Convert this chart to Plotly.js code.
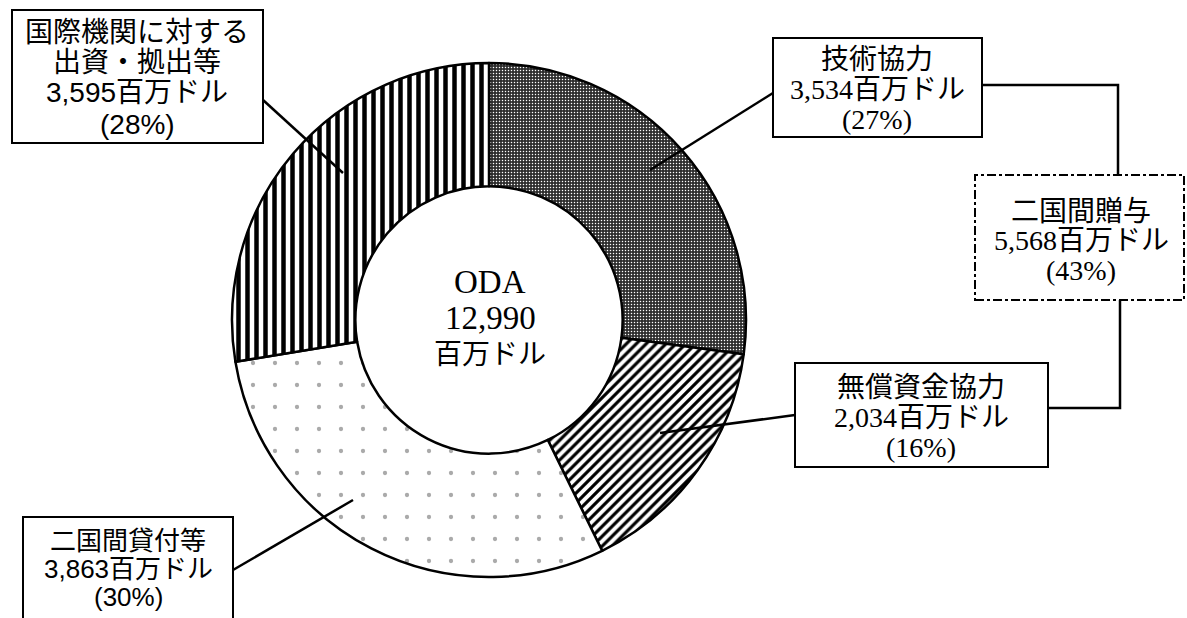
<!DOCTYPE html>
<html><head><meta charset="utf-8">
<script src="https://cdn.plot.ly/plotly-3.0.1.min.js"></script>
<style>html,body{margin:0;padding:0;background:#fff}#chart{width:1187px;height:618px}</style>
</head><body><div id="chart"></div>
<script>
// ---- data ----
const categories = ["技術協力", "無償資金協力", "二国間貸付等", "国際機関に対する出資・拠出等"];
const nameLines = [["技術協力"], ["無償資金協力"], ["二国間貸付等"], ["国際機関に対する", "出資・拠出等"]];
const values = [3534, 2034, 3863, 3595];
const percents = [27, 16, 30, 28];
const groupName = "二国間贈与";
const groupValue = 5568;
const groupPercent = 43;
const totalLabel = "ODA";
const totalValue = 12990;
const unit = "百万ドル";

// ---- helpers ----
const W = 1187, H = 618;
const px = x => x / W, py = y => 1 - y / H;
const fmt = v => v.toLocaleString("en-US");
const SERIF = "Liberation Serif, Noto Sans CJK JP, serif";
const SANS = "Liberation Sans, Noto Sans CJK JP, sans-serif";

const cx = 489, cy = 320, R = 257;

const trace = {
  type: "pie",
  labels: categories,
  values: values,
  sort: false,
  direction: "clockwise",
  rotation: 0,
  hole: 0.52,
  textinfo: "none",
  hoverinfo: "skip",
  showlegend: false,
  domain: {x: [px(cx - R), px(cx + R)], y: [py(cy + R), py(cy - R)]},
  marker: {
    colors: ["#333333", "#ffffff", "#ffffff", "#ffffff"],
    line: {color: "#000", width: 2.5},
    pattern: {
      shape: [".", "/", ".", "|"],
      fgcolor: ["#ffffff", "#000000", "#aaaaaa", "#000000"],
      bgcolor: ["#2e2e2e", "#ffffff", "#ffffff", "#ffffff"],
      size: [3, 7, 22, 9],
      solidity: [0.2, 0.45, 0.03, 0.5],
      fillmode: "replace"
    }
  }
};

const shapes = [];
const annotations = [];
function box(x0, y0, x1, y1, dash) {
  shapes.push({type: "rect", xref: "paper", yref: "paper", x0: px(x0), x1: px(x1), y0: py(y1), y1: py(y0),
    line: {color: "#000", width: 2, dash: dash || "solid"}, fillcolor: "rgba(255,255,255,0)"});
}
function path(points) {
  let d = points.map((p, i) => (i ? "L" : "M") + px(p[0]) + "," + py(p[1])).join(" ");
  shapes.push({type: "path", xref: "paper", yref: "paper", path: d, line: {color: "#000", width: 2.5}});
}
function lines(x, ys, texts, family, size) {
  texts.forEach((t, i) => annotations.push({
    xref: "paper", yref: "paper", x: px(x), y: py(ys[i]), text: t, showarrow: false,
    xanchor: "center", yanchor: "middle",
    font: {family: family, size: Array.isArray(size) ? size[i] : size, color: "#000"}
  }));
}
const valLine = i => fmt(values[i]) + unit;
const pctLine = i => "(" + percents[i] + "%)";

// 国際機関
box(12, 10, 263, 143);
lines(137, [33, 63, 93, 124], [...nameLines[3], valLine(3), pctLine(3)], SANS, 28);
path([[263, 100], [343, 173]]);
// 技術協力
box(773, 38, 982, 137);
lines(877, [60, 90, 119], [...nameLines[0], valLine(0), pctLine(0)], SERIF, 28);
path([[773, 93], [650, 170]]);
// 二国間贈与
box(975, 175, 1184, 300, "dashdot");
lines(1081, [212, 241, 271], [groupName, fmt(groupValue) + unit, "(" + groupPercent + "%)"], SERIF, 28);
path([[982, 85], [1118, 85], [1118, 175]]);
path([[1120, 300], [1120, 408], [1048, 408]]);
// 無償資金協力
box(795, 363, 1048, 467);
lines(921, [387, 417, 447], [...nameLines[1], valLine(1), pctLine(1)], SERIF, 28);
path([[795, 415], [660, 433]]);
// 二国間貸付等
box(23, 517, 233, 640);
lines(128, [541, 569, 597], [...nameLines[2], valLine(2), pctLine(2)], SANS, 26);
path([[233, 570], [353, 500]]);
// center
lines(490, [282, 318, 354], [totalLabel, fmt(totalValue), unit], SERIF, [33, 33, 28]);

Plotly.newPlot("chart", [trace], {
  width: W, height: H, margin: {l: 0, r: 0, t: 0, b: 0},
  paper_bgcolor: "#fff", plot_bgcolor: "#fff",
  shapes: shapes, annotations: annotations
}, {displayModeBar: false, staticPlot: true});
</script></body></html>
